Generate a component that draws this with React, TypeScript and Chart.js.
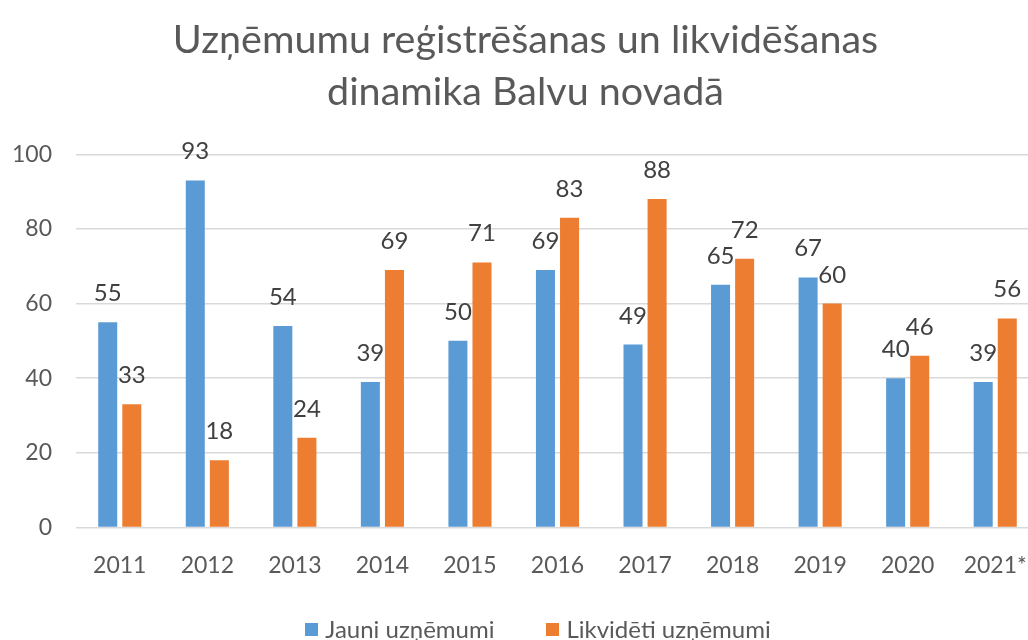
import React, { useEffect, useRef } from "react";
import { Chart, registerables } from "chart.js";

Chart.register(...registerables);

const categories = ["2011", "2012", "2013", "2014", "2015", "2016", "2017", "2018", "2019", "2020", "2021*"];
const newCompanies = [55, 93, 54, 39, 50, 69, 49, 65, 67, 40, 39];
const closedCompanies = [33, 18, 24, 69, 71, 83, 88, 72, 60, 46, 56];
const seriesNames = ["Jauni uzņēmumi", "Likvidēti uzņēmumi"];
const seriesColors = ["#5b9bd5", "#ed7d31"];
const titleLines = ["Uzņēmumu reģistrēšanas un likvidēšanas", "dinamika Balvu novadā"];

const FONT = "Lato, 'Open Sans', sans-serif";
const CW = 1064;
const CH = 640;

const valueLabels = {
  id: "valueLabels",
  afterDatasetsDraw(chart: any) {
    const ctx = chart.ctx;
    ctx.save();
    ctx.font = `24px ${FONT}`;
    ctx.fillStyle = "#404040";
    ctx.textAlign = "center";
    ctx.textBaseline = "alphabetic";
    chart.data.datasets.forEach((ds: any, di: number) => {
      const meta = chart.getDatasetMeta(di);
      meta.data.forEach((el: any, i: number) => {
        ctx.fillText(String(ds.data[i]), el.x, el.y - 21);
      });
    });
    ctx.restore();
  },
};

export default function App() {
  const ref = useRef<HTMLCanvasElement | null>(null);
  useEffect(() => {
    if (!ref.current) return;
    const chart = new Chart(ref.current, {
      type: "bar",
      data: {
        labels: categories,
        datasets: [
          { label: seriesNames[0], data: newCompanies, backgroundColor: seriesColors[0], barPercentage: 0.79, categoryPercentage: 0.55 },
          { label: seriesNames[1], data: closedCompanies, backgroundColor: seriesColors[1], barPercentage: 0.79, categoryPercentage: 0.55 },
        ],
      },
      options: {
        responsive: false,
        animation: false,
        devicePixelRatio: 1,
        layout: { padding: { left: 12, right: 25, top: 14, bottom: 45 } },
        plugins: {
          legend: { display: false },
          tooltip: { enabled: false },
          title: {
            display: true,
            text: titleLines,
            color: "#595959",
            font: { family: FONT, size: 39.5, weight: "normal" as any, lineHeight: 1.32 },
            padding: { top: 0, bottom: 36 },
          },
        },
        scales: {
          x: {
            grid: { display: false },
            border: { display: false },
            ticks: { color: "#595959", font: { family: FONT, size: 23 }, padding: 16 },
          },
          y: {
            min: 0,
            max: 100,
            ticks: { stepSize: 20, color: "#595959", font: { family: FONT, size: 23 }, padding: 24 },
            grid: { color: "#d9d9d9", lineWidth: 1.5, drawTicks: false },
            border: { display: false },
            afterFit: (s: any) => {
              s.width = 64;
            },
          },
        },
      },
      plugins: [valueLabels],
    });
    return () => chart.destroy();
  }, []);

  return (
    <div style={{ position: "absolute", left: 0, top: 0, width: 1028, height: 640, overflow: "hidden", background: "#fff" }}>
      <canvas ref={ref} width={CW} height={CH} style={{ position: "absolute", left: 0, top: 0, width: CW, height: CH }} />
      <div
        style={{
          position: "absolute",
          left: 6,
          top: 614,
          width: CW,
          display: "flex",
          justifyContent: "center",
          gap: 52,
          fontFamily: FONT,
          fontSize: 24,
          color: "#595959",
          lineHeight: "30px",
        }}
      >
        {seriesNames.map((n, i) => (
          <div key={n} style={{ display: "flex", alignItems: "center" }}>
            <span style={{ display: "inline-block", width: 13, height: 13, background: seriesColors[i], marginRight: 7 }} />
            <span>{n}</span>
          </div>
        ))}
      </div>
    </div>
  );
}
